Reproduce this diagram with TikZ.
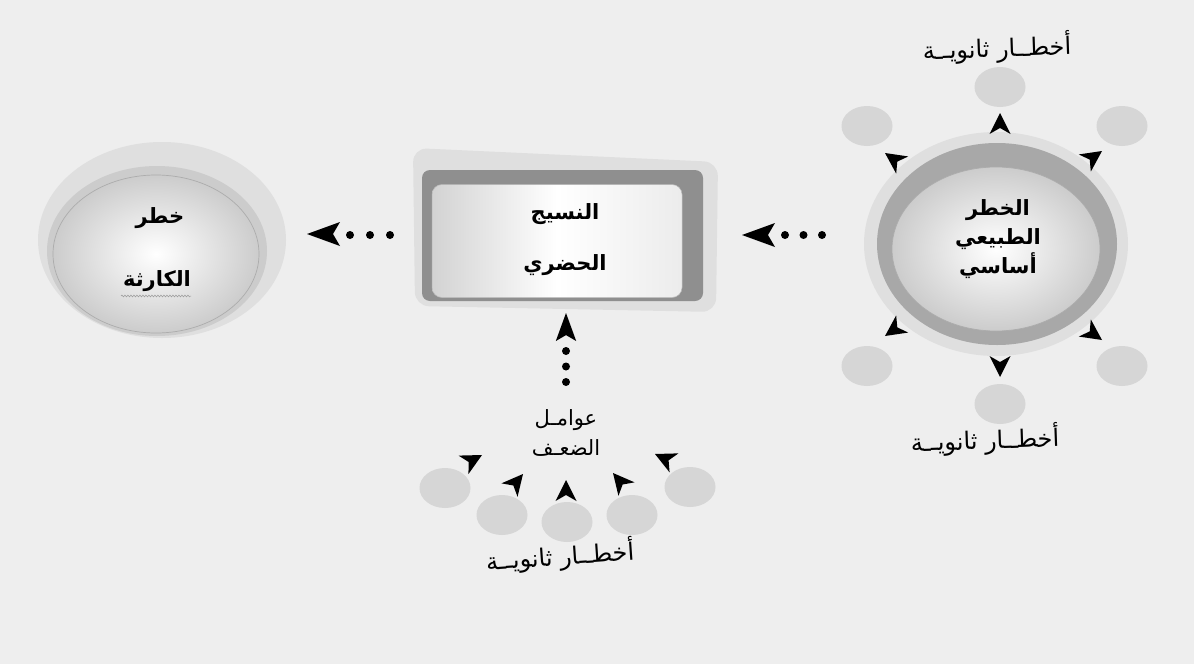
\documentclass[tikz,border=0pt]{standalone}
\usepackage{fontspec}
\TeXXeTstate=1
\newfontfamily\arabicfont[Script=Arabic]{DejaVu Sans}
\usetikzlibrary{shapes.geometric,decorations.pathmorphing}
\definecolor{bg}{gray}{0.935}
\definecolor{halo}{gray}{0.875}
\definecolor{ringA}{gray}{0.80}
\definecolor{ringB}{gray}{0.66}
\definecolor{framec}{gray}{0.56}
\definecolor{smallc}{gray}{0.84}
\begin{document}
\begin{tikzpicture}[x=1pt,y=-1pt,
  ar/.style={font=\arabicfont\bfseries\fontsize{21}{29}\selectfont, align=center, inner sep=0pt},
  lbl/.style={font=\arabicfont\fontsize{24}{30}\selectfont, align=center, inner sep=0pt},
  disk/.style={ellipse, inner sep=0pt, inner color=white, outer color=gray!40, draw=gray!65, line width=0.7pt},
  sm/.style={ellipse, fill=smallc, minimum width=51pt, minimum height=40pt, inner sep=0pt},
  dotline/.style={line width=8pt, line cap=round},
  pics/ahead/.style={code={\fill (0,0) -- (-21,-10.5) -- (-15,0) -- (-21,10.5) -- cycle;}},
  pics/bighead/.style={code={\fill (0,0) -- (-33,-12) -- (-26,0) -- (-33,12) -- cycle;}},
]
\useasboundingbox (0,0) rectangle (1194,664);
\fill[bg] (0,0) rectangle (1194,664);

% ---------- left: disaster risk ----------
\fill[halo] (162,240) ellipse (124 and 98);
\fill[ringA] (157,251) ellipse (110 and 85);
\node[disk, minimum width=206pt, minimum height=158pt] (kar) at (156,254) {};
\node[ar] (karA) at (160,218) {\beginR خطر\endR};
\node[ar] (karB) at (157,281) {\beginR الكارثة\endR};
\coordinate (sqA) at (121,296);
\coordinate (sqB) at (191,296);
\draw[gray!80, line width=0.5pt, decorate, decoration={snake, amplitude=0.9pt, segment length=3pt}] (sqA) -- (sqB);

% ---------- middle: urban fabric ----------
\fill[halo, rounded corners=14pt] (413,148) -- (718,162) -- (716,312) -- (415,306) -- cycle;
\fill[framec, rounded corners=8pt] (422,170) rectangle (703,301);
\node[rectangle, rounded corners=10pt, minimum width=250pt, minimum height=113pt,
      left color=gray!35, right color=gray!15, middle color=white, draw=gray!55, line width=0.5pt]
      (nas) at (557,241) {};
\node[ar] (nasA) at (565,214) {\beginR النسيج\endR};
\node[ar] (nasB) at (565,265) {\beginR الحضري\endR};

% ---------- right: natural hazard ----------
\fill[halo] (996,244) ellipse (132 and 112);
\fill[ringB] (997,244) ellipse (120 and 101);
\node[disk, minimum width=208pt, minimum height=164pt] (nat) at (996,249) {};
\node[ar] (natT) at (998,239) {\beginR الخطر\endR\\\beginR الطبيعي\endR\\\beginR أساسي\endR};

% small circles around the natural hazard
\node[sm] (s1) at (1000,87) {};
\node[sm] (s2) at (867,126) {};
\node[sm] (s3) at (1122,126) {};
\node[sm] (s4) at (867,366) {};
\node[sm] (s5) at (1122,366) {};
\node[sm] (s6) at (1000,404) {};
\pic[rotate=90] at (1000,113) {ahead};
\pic[rotate=145] at (885,153) {ahead};
\pic[rotate=35] at (1102,151) {ahead};
\pic[rotate=215] at (885,336) {ahead};
\pic[rotate=-35] at (1102,340) {ahead};
\pic[rotate=-90] at (1000,377) {ahead};
\node[lbl, rotate=2] (labTop) at (997,48) {\beginR أخطــار ثانويــة\endR};
\node[lbl, rotate=2] (labRight) at (985,440) {\beginR أخطــار ثانويــة\endR};

% ---------- bottom: vulnerability factors ----------
\node[lbl, font=\arabicfont\fontsize{21}{30}\selectfont] (weak) at (566,433) {\beginR عوامـل\endR\\\beginR الضعـف\endR};
\node[sm] (b1) at (445,488) {};
\node[sm] (b2) at (502,515) {};
\node[sm] (b3) at (567,522) {};
\node[sm] (b4) at (632,515) {};
\node[sm] (b5) at (690,487) {};
\pic[rotate=28] at (482,455) {ahead};
\pic[rotate=50] at (523,474) {ahead};
\pic[rotate=90] at (566,480) {ahead};
\pic[rotate=130] at (613,473) {ahead};
\pic[rotate=155] at (655,454) {ahead};
\node[lbl, rotate=4] (labBot) at (560,556) {\beginR أخطــار ثانويــة\endR};

% ---------- dotted arrows ----------
\coordinate (rA) at (822,235);
\coordinate (rB) at (784.5,235);
\draw[dotline, dash pattern=on 0pt off 18.5pt] (rA) -- (rB);
\pic[rotate=180] at (742,235) {bighead};

\coordinate (lA) at (390,235);
\coordinate (lB) at (349.5,235);
\draw[dotline, dash pattern=on 0pt off 20pt] (lA) -- (lB);
\pic[rotate=180] at (307,234) {bighead};

\coordinate (uA) at (566,382);
\coordinate (uB) at (566,350.5);
\draw[dotline, dash pattern=on 0pt off 15.5pt] (uA) -- (uB);
\pic[rotate=90, scale=0.85] at (566,313) {bighead};
\end{tikzpicture}
\end{document}
